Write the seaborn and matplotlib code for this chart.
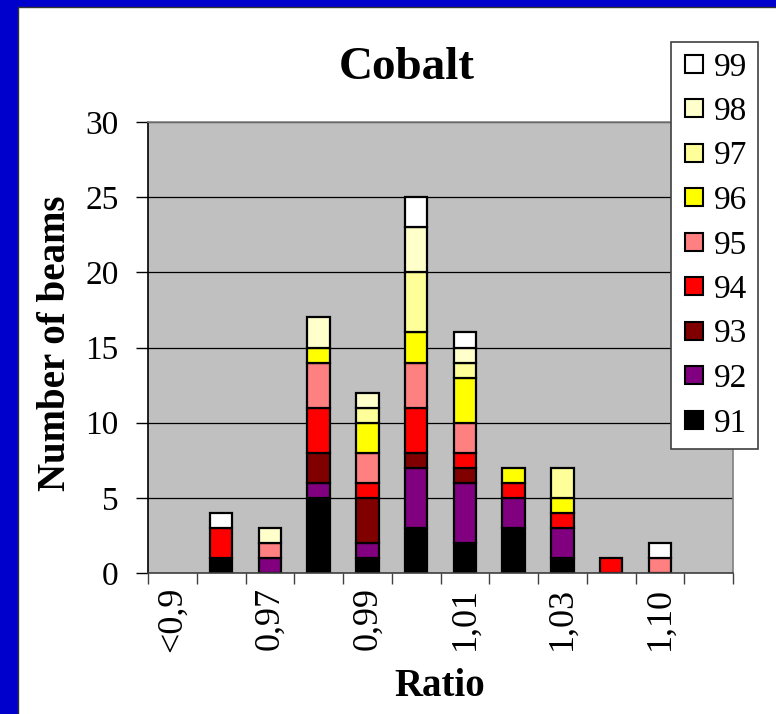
import matplotlib
matplotlib.use("Agg")
import matplotlib.pyplot as plt
from matplotlib.lines import Line2D
from matplotlib.patches import Rectangle
import pandas as pd
import seaborn as sns

# categories along the x axis (Excel shows only every second label)
RATIOS = ["<0,9", "0,96", "0,97", "0,98", "0,99", "1,00",
          "1,01", "1,02", "1,03", "1,04", "1,10", ">1,10"]
SERIES = ["91", "92", "93", "94", "95", "96", "97", "98", "99"]
COLORS = ["#000000", "#800080", "#800000", "#FF0000", "#FF8080",
          "#FFFF00", "#FFFF99", "#FFFFCC", "#FFFFFF"]

# beams per ratio bin, one list per series (91 bottom -> 99 top)
S91 = [0, 1, 0, 5, 1, 3, 2, 3, 1, 0, 0, 0]
S92 = [0, 0, 1, 1, 1, 4, 4, 2, 2, 0, 0, 0]
S93 = [0, 0, 0, 2, 3, 1, 1, 0, 0, 0, 0, 0]
S94 = [0, 2, 0, 3, 1, 3, 1, 1, 1, 1, 0, 0]
S95 = [0, 0, 1, 3, 2, 3, 2, 0, 0, 0, 1, 0]
S96 = [0, 0, 0, 1, 2, 2, 3, 1, 1, 0, 0, 0]
S97 = [0, 0, 0, 0, 1, 4, 1, 0, 2, 0, 0, 0]
S98 = [0, 0, 1, 2, 1, 3, 1, 0, 0, 0, 0, 0]
S99 = [0, 1, 0, 0, 0, 2, 1, 0, 0, 0, 1, 0]
COUNTS = [S91, S92, S93, S94, S95, S96, S97, S98, S99]

rows = []
for name, vals in zip(SERIES, COUNTS):
    for i, v in enumerate(vals):
        if v > 0:
            rows.append({"pos": i, "series": name, "beams": v})
df = pd.DataFrame(rows)

sns.set_style("white")
plt.rcParams["font.family"] = ["Liberation Serif", "DejaVu Serif"]
plt.rcParams["text.color"] = "black"
plt.rcParams["xtick.color"] = "black"
plt.rcParams["ytick.color"] = "black"

W, H = 776, 714
fig = plt.figure(figsize=(W / 100, H / 100), dpi=100)
ax = fig.add_axes([148 / W, 1 - 573 / H, 585 / W, 451 / H])
ax.set_facecolor("#C0C0C0")

palette = dict(zip(SERIES, COLORS))
sns.histplot(
    data=df, x="pos", weights="beams", hue="series",
    hue_order=SERIES[::-1], palette=palette, multiple="stack",
    discrete=True, shrink=0.46, alpha=1, edgecolor="black",
    linewidth=1.6, legend=False, ax=ax,
)
for p in list(ax.patches):
    if p.get_height() == 0:
        p.remove()

ax.set_xlim(-0.5, len(RATIOS) - 0.5)
ax.set_ylim(0, 30)
ax.set_yticks(range(0, 31, 5))
ax.yaxis.grid(True, color="black", linewidth=0.9)
ax.set_axisbelow(True)
ax.tick_params(axis="y", labelsize=24, length=9, width=1, pad=12,
               direction="out", left=True)

ax.set_xticks(range(0, len(RATIOS), 2))
ax.set_xticklabels(RATIOS[::2], rotation=90, fontsize=26)
ax.set_xticks([i - 0.5 for i in range(len(RATIOS) + 1)], minor=True)
ax.tick_params(axis="x", which="major", length=0, pad=10)
ax.tick_params(axis="x", which="minor", length=8, width=1,
               direction="out", bottom=True, color="#404040")
ax.set_xlabel("")
ax.set_ylabel("")

for side in ("top", "right"):
    ax.spines[side].set_color("#808080")
    ax.spines[side].set_linewidth(1.2)
ax.spines["left"].set_color("black")
ax.spines["bottom"].set_color("#404040")
ax.spines["left"].set_linewidth(1.2)
ax.spines["bottom"].set_linewidth(1.2)

fig.text(407 / W, 1 - 68 / H, "Cobalt", ha="center", va="center",
         fontsize=34, fontweight="bold")
fig.text(56 / W, 1 - 343 / H, "Number of beams", ha="center", va="center",
         rotation=90, fontsize=28, fontweight="bold")
fig.text(440 / W, 1 - 686 / H, "Ratio", ha="center", va="center",
         fontsize=28, fontweight="bold")

handles = [Line2D([], [], linestyle="none", marker="s", markersize=13,
                  markerfacecolor=palette[s], markeredgecolor="black",
                  markeredgewidth=1.5, label=s) for s in SERIES[::-1]]
leg = fig.legend(handles=handles, loc="upper left",
                 bbox_to_anchor=(671 / W, 1 - 42 / H), fontsize=24,
                 frameon=True, fancybox=False, handlelength=0.8,
                 handletextpad=0.2, labelspacing=0.42, borderpad=0.3,
                 borderaxespad=0)
leg.get_frame().set_edgecolor("#404040")
leg.get_frame().set_linewidth(1.2)
leg.get_frame().set_alpha(1)

fig.patches.append(Rectangle((0, 0), 17 / W, 1, transform=fig.transFigure,
                             color="#0000CC", zorder=0))
fig.patches.append(Rectangle((0, 1 - 6 / H), 1, 6 / H,
                             transform=fig.transFigure, color="#0000CC",
                             zorder=0))
fig.lines.append(Line2D([17.5 / W, 17.5 / W, 1], [0, 1 - 6.5 / H, 1 - 6.5 / H],
                        transform=fig.transFigure, color="#333333",
                        linewidth=1))

fig.savefig("out.png", dpi=100)
